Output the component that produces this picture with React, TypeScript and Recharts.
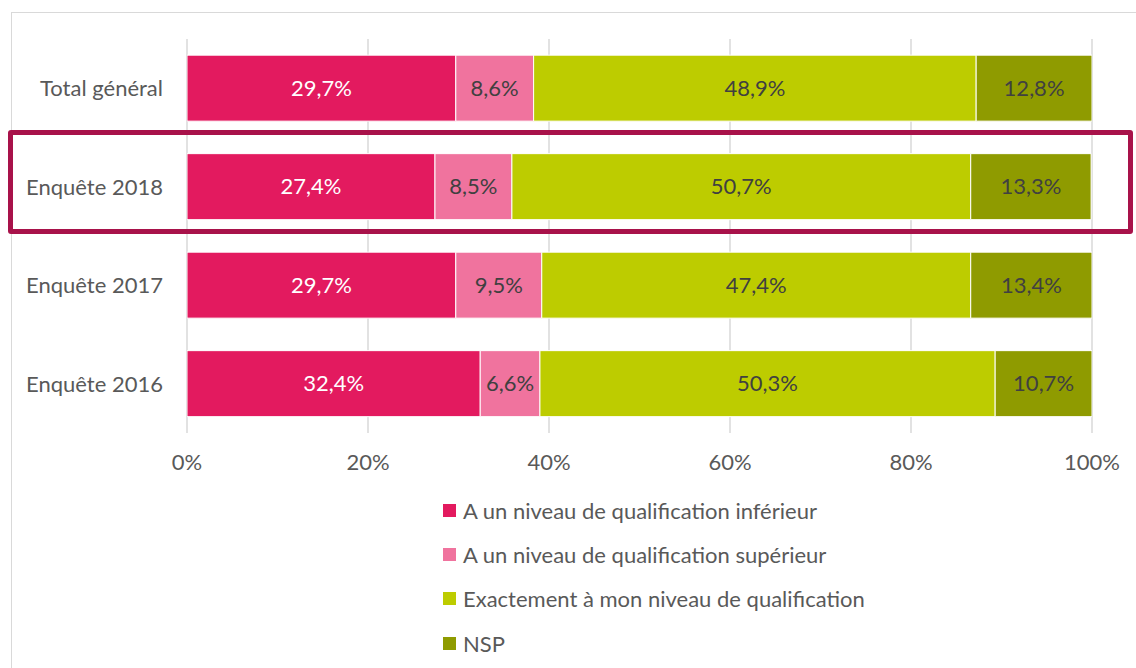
import { BarChart, Bar, XAxis, YAxis, CartesianGrid, LabelList, Legend } from "recharts";

const categories = ["Total général", "Enquête 2018", "Enquête 2017", "Enquête 2016"];
const inferieur = [29.7, 27.4, 29.7, 32.4];
const superieur = [8.6, 8.5, 9.5, 6.6];
const exactement = [48.9, 50.7, 47.4, 50.3];
const nsp = [12.8, 13.3, 13.4, 10.7];
const xTicks = [0, 20, 40, 60, 80, 100];

const series = [
  { key: "inferieur", name: "A un niveau de qualification inférieur", color: "#e31a5f", text: "#ffffff" },
  { key: "superieur", name: "A un niveau de qualification supérieur", color: "#f0739e", text: "#404040" },
  { key: "exactement", name: "Exactement à mon niveau de qualification", color: "#bdcc00", text: "#404040" },
  { key: "nsp", name: "NSP", color: "#8f9b00", text: "#404040" },
];

const data = categories.map((c, i) => ({
  name: c,
  inferieur: inferieur[i],
  superieur: superieur[i],
  exactement: exactement[i],
  nsp: nsp[i],
}));

const pct = (v: any) => `${Number(v).toFixed(1).replace(".", ",")}%`;

function LegendList() {
  return (
    <div style={{ display: "flex", flexDirection: "column" }}>
      {series.map((s) => (
        <div key={s.key} style={{ display: "flex", alignItems: "center", height: 44.3, fontSize: 22, color: "#595959" }}>
          <span style={{ width: 13, height: 13, background: s.color, marginRight: 7, display: "inline-block" }} />
          {s.name}
        </div>
      ))}
    </div>
  );
}

export default function App() {
  return (
    <div style={{ position: "absolute", left: 0, top: 0, width: 1136, height: 668, overflow: "hidden", background: "#fff", fontFamily: "Lato" }}>
      <div style={{ position: "absolute", left: 11, top: 12, width: 1200, height: 700, border: "1px solid #d9d9d9" }} />
      <BarChart
        width={1136}
        height={668}
        data={data}
        layout="vertical"
        margin={{ top: 39, right: 44, bottom: 195, left: 0 }}
        barCategoryGap="16.4%"
      >
        <CartesianGrid horizontal={false} stroke="#d9d9d9" strokeWidth={1.5} />
        <XAxis
          type="number"
          domain={[0, 100]}
          ticks={xTicks}
          allowDataOverflow
          tickFormatter={(v) => `${v}%`}
          axisLine={false}
          tickLine={false}
          tickSize={0}
          tickMargin={21}
          height={40}
          tick={{ fill: "#595959", fontSize: 22 }}
        />
        <YAxis
          type="category"
          dataKey="name"
          width={187}
          axisLine={false}
          tickLine={false}
          tickSize={0}
          tickMargin={24}
          tick={{ fill: "#595959", fontSize: 22 }}
        />
        {series.map((s) => (
          <Bar key={s.key} dataKey={s.key} name={s.name} stackId="a" fill={s.color} stroke="#ffffff" strokeWidth={1} isAnimationActive={false}>
            <LabelList dataKey={s.key} position="center" formatter={pct} fill={s.text} fontSize={22} />
          </Bar>
        ))}
        <Legend
          layout="vertical"
          align="center"
          verticalAlign="middle"
          content={() => <LegendList />}
          wrapperStyle={{ left: 443, top: 488, width: "auto" }}
        />
      </BarChart>
      <div
        style={{
          position: "absolute",
          left: 8,
          top: 130,
          width: 1125,
          height: 104,
          border: "5px solid #a8124a",
          borderRadius: 3,
          boxSizing: "border-box",
          pointerEvents: "none",
        }}
      />
    </div>
  );
}
